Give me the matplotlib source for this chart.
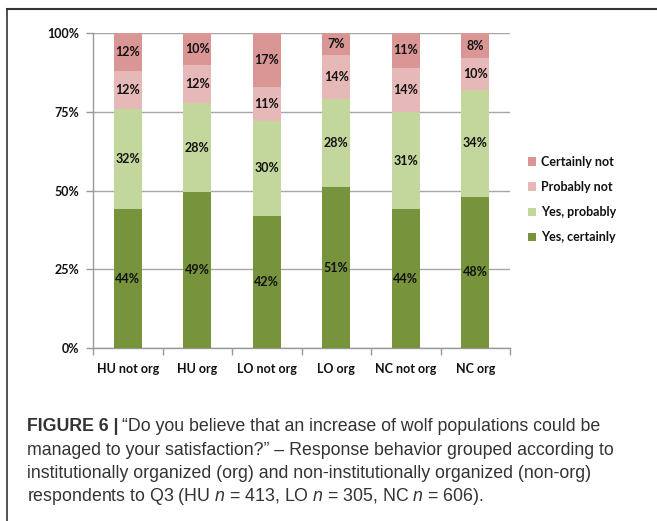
import matplotlib
matplotlib.use("Agg")
import matplotlib.pyplot as plt
from matplotlib.lines import Line2D
import numpy as np

plt.rcParams['mathtext.fontset'] = 'custom'
plt.rcParams['mathtext.rm'] = 'Liberation Sans'
plt.rcParams['mathtext.it'] = 'Liberation Sans:italic'

groups = ["HU not org", "HU org", "LO not org", "LO org", "NC not org", "NC org"]
yes_certainly = [44, 49, 42, 51, 44, 48]
yes_probably = [32, 28, 30, 28, 31, 34]
probably_not = [12, 12, 11, 14, 14, 10]
certainly_not = [12, 10, 17, 7, 11, 8]

series_names = ["Yes, certainly", "Yes, probably", "Probably not", "Certainly not"]
colors = ["#77933C", "#C3D69B", "#E6B9B8", "#D99694"]

W, H = 657, 521
fig = plt.figure(figsize=(W / 100, H / 100), dpi=100)
ax = fig.add_axes([93 / W, 1 - 348 / H, 417 / W, 315 / H])

tick_font = dict(family="Lato", fontweight="bold", fontsize=9)

data = np.array([yes_certainly, yes_probably, probably_not, certainly_not], dtype=float)
# 100% stacked, like the spreadsheet chart
shares = data / data.sum(axis=0) * 100
x = np.arange(len(groups))
bottom = np.zeros(len(groups))
for vals, shr, name, col in zip(data, shares, series_names, colors):
    ax.bar(x, shr, 0.4, bottom=bottom, color=col, label=name, zorder=3)
    for xi, b, s, v in zip(x, bottom, shr, vals):
        ax.text(xi, b + s / 2, f"{int(v)}%", ha="center", va="center",
                color="#111111", zorder=4, **tick_font)
    bottom += shr

ax.set_xlim(-0.5, len(groups) - 0.5)
ax.set_ylim(0, 100)
ax.set_yticks([0, 25, 50, 75, 100])
ax.set_yticklabels(["0%", "25%", "50%", "75%", "100%"], color="#111111", **tick_font)
ax.set_xticks(x)
ax.set_xticklabels(groups, color="#111111", **tick_font)
ax.set_xticks(np.arange(len(groups) + 1) - 0.5, minor=True)
ax.tick_params(axis="x", which="major", length=0, pad=11)
ax.tick_params(axis="x", which="minor", length=5, color="#999999", width=1)
ax.tick_params(axis="y", length=5, color="#999999", width=1, pad=5)
ax.yaxis.grid(True, color="#A6A6A6", linewidth=1, zorder=0)
for side in ["top", "right"]:
    ax.spines[side].set_visible(False)
for side in ["left", "bottom"]:
    ax.spines[side].set_color("#999999")
    ax.spines[side].set_linewidth(1)

handles, labels = ax.get_legend_handles_labels()
leg = fig.legend(handles[::-1], labels[::-1], loc="center left",
                 bbox_to_anchor=(517 / W, 1 - 199.5 / H), frameon=False,
                 handlelength=0.65, handleheight=0.65, handletextpad=0.35,
                 labelspacing=1.05, prop=dict(family="Lato", weight="bold", size=9))
for txt in leg.get_texts():
    txt.set_color("#111111")

# frame around the figure panel
fig.add_artist(Line2D([7 / W, 1], [1 - 8.5 / H, 1 - 8.5 / H], color="#333333", lw=1.5))
fig.add_artist(Line2D([7 / W, 7 / W], [0, 1 - 8.5 / H], color="#333333", lw=1.2))

cap = dict(family="Liberation Sans", fontsize=12.8, color="#333333", va="baseline")
x0 = 27 / W
t = fig.text(x0, 1 - 431 / H, "FIGURE 6 |", fontweight="bold", **cap)
fig.canvas.draw()
bb = t.get_window_extent()
fig.text(bb.x1 / W + 4 / W, 1 - 431 / H,
         "\u201cDo you believe that an increase of wolf populations could be", **cap)
fig.text(x0, 1 - 455 / H,
         "managed to your satisfaction?\u201d \u2013 Response behavior grouped according to", **cap)
fig.text(x0, 1 - 478 / H,
         "institutionally organized (org) and non-institutionally organized (non-org)", **cap)
fig.text(x0, 1 - 501 / H,
         "respondents to Q3 (HU $n$ = 413, LO $n$ = 305, NC $n$ = 606).", **cap)

fig.savefig("out.png", dpi=100)
